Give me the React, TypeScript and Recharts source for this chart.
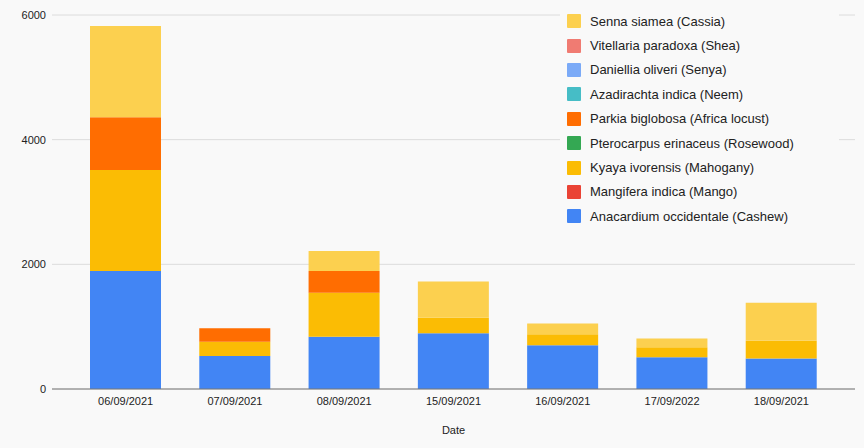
import React from "react"
import { BarChart, Bar, XAxis, YAxis, CartesianGrid, Legend } from "recharts"

const dates = ["06/09/2021", "07/09/2021", "08/09/2021", "15/09/2021", "16/09/2021", "17/09/2022", "18/09/2021"]

const cashew = [1895, 530, 840, 895, 700, 510, 490]
const mango = [0, 0, 0, 0, 0, 0, 0]
const mahogany = [1620, 230, 705, 250, 180, 160, 285]
const rosewood = [0, 0, 0, 0, 0, 0, 0]
const locust = [845, 215, 350, 0, 0, 0, 0]
const neem = [0, 0, 0, 0, 0, 0, 0]
const senya = [0, 0, 0, 0, 0, 0, 0]
const shea = [0, 0, 0, 0, 0, 0, 0]
const cassia = [1465, 0, 320, 580, 170, 140, 610]

const yTicks = [0, 2000, 4000, 6000]

// stacking order, bottom to top
const series = [
  { key: "cashew", name: "Anacardium occidentale (Cashew)", color: "#4285F4", values: cashew },
  { key: "mango", name: "Mangifera indica (Mango)", color: "#EA4335", values: mango },
  { key: "mahogany", name: "Kyaya ivorensis (Mahogany)", color: "#FBBC04", values: mahogany },
  { key: "rosewood", name: "Pterocarpus erinaceus (Rosewood)", color: "#34A853", values: rosewood },
  { key: "locust", name: "Parkia biglobosa (Africa locust)", color: "#FF6D01", values: locust },
  { key: "neem", name: "Azadirachta indica (Neem)", color: "#46BDC6", values: neem },
  { key: "senya", name: "Daniellia oliveri (Senya)", color: "#7BAAF7", values: senya },
  { key: "shea", name: "Vitellaria paradoxa (Shea)", color: "#F07B72", values: shea },
  { key: "cassia", name: "Senna siamea (Cassia)", color: "#FCD04F", values: cassia },
]

const data = dates.map((date, i) => {
  const row: Record<string, string | number> = { date }
  series.forEach((s) => {
    row[s.key] = s.values[i]
  })
  return row
})

const BG = "#f9f9f9"
const FONT = "Arial, 'Liberation Sans', sans-serif"

function SpeciesLegend() {
  return (
    <div style={{ background: BG, padding: "6px 0 6px 7px", fontFamily: FONT }}>
      {[...series].reverse().map((s) => (
        <div key={s.key} style={{ display: "flex", alignItems: "center", height: 24.4 }}>
          <span style={{ width: 14, height: 14, background: s.color, marginRight: 9, borderRadius: 1 }} />
          <span style={{ fontSize: 13, color: "#222" }}>{s.name}</span>
        </div>
      ))}
    </div>
  )
}

export default function App() {
  return (
    <div style={{ position: "absolute", left: 0, top: 0, width: 864, height: 448, background: BG }}>
      <BarChart
        width={864}
        height={448}
        data={data}
        margin={{ top: 15, right: 9, bottom: 29, left: 0 }}
        barSize={71}
        style={{ fontFamily: FONT }}
      >
        <CartesianGrid horizontal vertical={false} stroke="#dcdcdc" />
        <XAxis
          dataKey="date"
          padding={{ left: 19, right: 19 }}
          tickLine={false}
          axisLine={{ stroke: "#777" }}
          height={30}
          tick={{ fontSize: 11, fill: "#222" }}
          label={{ value: "Date", position: "insideBottom", offset: -15, fontSize: 11, fill: "#222" }}
        />
        <YAxis
          width={52}
          domain={[0, 6000]}
          ticks={yTicks}
          axisLine={false}
          tickLine={false}
          tickMargin={0}
          tick={{ fontSize: 11, fill: "#222" }}
        />
        <Legend
          layout="vertical"
          align="center"
          verticalAlign="middle"
          wrapperStyle={{ left: 560, top: 3, width: 279 }}
          content={() => <SpeciesLegend />}
        />
        {series.map((s) => (
          <Bar key={s.key} dataKey={s.key} name={s.name} stackId="a" fill={s.color} isAnimationActive={false} />
        ))}
      </BarChart>
    </div>
  )
}
